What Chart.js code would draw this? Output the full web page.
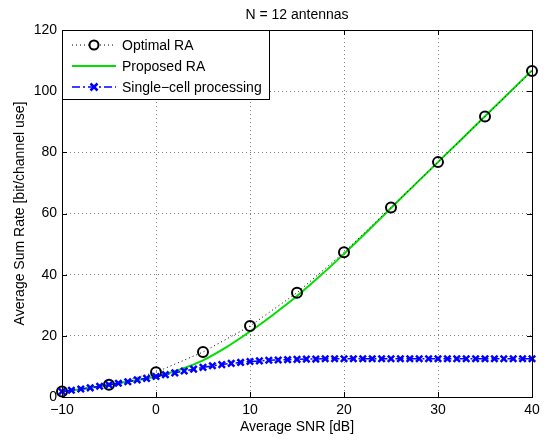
<!DOCTYPE html>
<html>
<head>
<meta charset="utf-8">
<script src="https://cdn.jsdelivr.net/npm/chart.js@4"></script>
<style>
  html, body { margin: 0; padding: 0; background: #fff; }
  #wrap { width: 551px; height: 440px; }
</style>
</head>
<body>
<div id="wrap"><canvas id="rateChart" width="551" height="440"></canvas></div>
<script>
// ------------------
// data
// ------------------
const snrCoarse = [-10, -5, 0, 5, 10, 15, 20, 25, 30, 35, 40];
const optimalRA = [1.8, 4.0, 8.1, 14.7, 23.2, 34.1, 47.3, 62.0, 76.8, 91.7, 106.6];

const snrProposed = [-10, -7.5, -5, -2.5, 0, 2.5, 5, 7.5, 10, 12.5, 15, 17.5, 20, 22.5, 25, 30, 35, 40];
const proposedRA = [1.8, 2.8, 4.0, 5.3, 6.7, 8.9, 12.0, 16.3, 21.4, 27.0, 33.0, 39.7, 46.8, 54.2, 61.8, 76.8, 91.8, 106.8];

const snrFine = [-10, -9, -8, -7, -6, -5, -4, -3, -2, -1, 0, 1, 2, 3, 4, 5, 6, 7, 8, 9,
  10, 11, 12, 13, 14, 15, 16, 17, 18, 19, 20, 21, 22, 23, 24, 25, 26, 27, 28, 29,
  30, 31, 32, 33, 34, 35, 36, 37, 38, 39, 40];
const singleCell = [1.8, 2.2, 2.6, 3.0, 3.5, 4.0, 4.5, 5.0, 5.6, 6.1, 6.7, 7.3, 7.9, 8.5, 9.1, 9.7, 10.2, 10.6, 11.0, 11.3,
  11.6, 11.8, 12.0, 12.1, 12.2, 12.3, 12.4, 12.4, 12.5, 12.5, 12.5, 12.5, 12.5, 12.5, 12.5, 12.5, 12.5, 12.5, 12.5, 12.5,
  12.5, 12.5, 12.5, 12.5, 12.5, 12.5, 12.5, 12.5, 12.5, 12.5, 12.5];

const xTicks = [-10, 0, 10, 20, 30, 40];
const yTicks = [0, 20, 40, 60, 80, 100, 120];

const titleText = "N = 12 antennas";
const xLabel = "Average SNR [dB]";
const yLabel = "Average Sum Rate [bit/channel use]";
const seriesNames = ["Optimal RA", "Proposed RA", "Single\u2212cell processing"];

const FONT = "Liberation Sans, Arial, Helvetica, sans-serif";
const GREEN = "#00e000";
const BLUE = "#0000ff";

function pairs(xs, ys) {
  return xs.map((x, i) => ({ x: x, y: ys[i] }));
}

// ------------------
// box, inward ticks, title, legend
// ------------------
const matlabFrame = {
  id: "matlabFrame",
  afterDraw(chart) {
    const ctx = chart.ctx;
    const a = chart.chartArea;
    const sx = chart.scales.x;
    const sy = chart.scales.y;
    ctx.save();
    ctx.strokeStyle = "#000";
    ctx.lineWidth = 1;
    ctx.strokeRect(a.left + 0.5, a.top + 0.5, a.right - a.left, a.bottom - a.top);

    const tl = 5;
    ctx.beginPath();
    xTicks.forEach(v => {
      const px = Math.round(sx.getPixelForValue(v)) + 0.5;
      ctx.moveTo(px, a.bottom); ctx.lineTo(px, a.bottom - tl);
      ctx.moveTo(px, a.top); ctx.lineTo(px, a.top + tl);
    });
    yTicks.forEach(v => {
      const py = Math.round(sy.getPixelForValue(v)) + 0.5;
      ctx.moveTo(a.left, py); ctx.lineTo(a.left + tl, py);
      ctx.moveTo(a.right, py); ctx.lineTo(a.right - tl, py);
    });
    ctx.stroke();

    // title
    ctx.fillStyle = "#000";
    ctx.font = "14px " + FONT;
    ctx.textAlign = "center";
    ctx.textBaseline = "middle";
    ctx.fillText(titleText, (a.left + a.right) / 2, 15);

    // legend
    const lx = a.left + 0.5, ly = a.top + 0.5, lw = 207, lh = 69;
    ctx.fillStyle = "#fff";
    ctx.fillRect(lx, ly, lw, lh);
    ctx.strokeStyle = "#000";
    ctx.strokeRect(lx, ly, lw, lh);

    const rows = [45, 66, 87];
    const x0 = 72, x1 = 116, xm = 94;
    ctx.lineWidth = 1;

    // optimal
    ctx.strokeStyle = "#000";
    ctx.setLineDash([1, 3]);
    ctx.beginPath(); ctx.moveTo(x0, rows[0]); ctx.lineTo(x1, rows[0]); ctx.stroke();
    ctx.setLineDash([]);
    ctx.lineWidth = 2;
    ctx.fillStyle = "#fff";
    ctx.beginPath(); ctx.arc(xm, rows[0], 4.5, 0, Math.PI * 2); ctx.fill(); ctx.stroke();

    // proposed
    ctx.strokeStyle = GREEN;
    ctx.lineWidth = 2;
    ctx.beginPath(); ctx.moveTo(x0, rows[1]); ctx.lineTo(x1, rows[1]); ctx.stroke();

    // single-cell
    ctx.strokeStyle = BLUE;
    ctx.lineWidth = 1.5;
    ctx.setLineDash([8, 3, 2, 3]);
    ctx.beginPath(); ctx.moveTo(x0, rows[2]); ctx.lineTo(x1, rows[2]); ctx.stroke();
    ctx.setLineDash([]);
    ctx.lineWidth = 2.5;
    ctx.beginPath();
    ctx.moveTo(xm - 3.5, rows[2] - 3.5); ctx.lineTo(xm + 3.5, rows[2] + 3.5);
    ctx.moveTo(xm - 3.5, rows[2] + 3.5); ctx.lineTo(xm + 3.5, rows[2] - 3.5);
    ctx.stroke();

    ctx.fillStyle = "#000";
    ctx.font = "14px " + FONT;
    ctx.textAlign = "left";
    seriesNames.forEach((t, i) => ctx.fillText(t, 122, rows[i] + 1));
    ctx.restore();
  }
};

// ------------------
// chart setup
// ------------------
let chart;

function createChart() {
  const ctx = document.getElementById("rateChart");

  chart = new Chart(ctx, {
    type: "line",
    data: {
      datasets: [
        {
          label: seriesNames[0],
          data: pairs(snrCoarse, optimalRA),
          borderColor: "#000",
          borderWidth: 1,
          borderDash: [1, 3],
          pointStyle: "circle",
          pointRadius: 5,
          pointBorderWidth: 2,
          pointBorderColor: "#000",
          pointBackgroundColor: "rgba(0,0,0,0)",
          order: 1
        },
        {
          label: seriesNames[1],
          data: pairs(snrProposed, proposedRA),
          borderColor: GREEN,
          borderWidth: 2,
          pointRadius: 0,
          cubicInterpolationMode: "monotone",
          order: 2
        },
        {
          label: seriesNames[2],
          data: pairs(snrFine, singleCell),
          borderColor: BLUE,
          borderWidth: 1.5,
          borderDash: [8, 3, 2, 3],
          pointStyle: "crossRot",
          pointRadius: 4.5,
          pointBorderWidth: 2.5,
          pointBorderColor: BLUE,
          order: 0
        }
      ]
    },
    options: {
      responsive: false,
      animation: false,
      clip: false,
      layout: { padding: { top: 30, right: 19, left: 0, bottom: 0 } },
      plugins: {
        legend: { display: false },
        tooltip: { enabled: false }
      },
      scales: {
        x: {
          type: "linear",
          min: -10,
          max: 40,
          afterFit(scale) { scale.height = 43; },
          afterBuildTicks(scale) { scale.ticks = xTicks.map(v => ({ value: v })); },
          ticks: {
            color: "#000",
            font: { family: FONT, size: 14 },
            padding: 5,
            maxRotation: 0,
            callback: v => String(v).replace("-", "\u2212")
          },
          grid: { color: "rgba(0,0,0,0.5)", lineWidth: 1, drawTicks: false },
          border: { display: false, dash: [1, 3] },
          title: {
            display: true,
            text: xLabel,
            color: "#000",
            font: { family: FONT, size: 14 },
            padding: { top: 0, bottom: 4 }
          }
        },
        y: {
          min: 0,
          max: 120,
          afterFit(scale) { scale.width = 62; },
          afterBuildTicks(scale) { scale.ticks = yTicks.map(v => ({ value: v })); },
          ticks: {
            color: "#000",
            font: { family: FONT, size: 14 },
            padding: 5
          },
          grid: { color: "rgba(0,0,0,0.5)", lineWidth: 1, drawTicks: false },
          border: { display: false, dash: [1, 3] },
          title: {
            display: true,
            text: yLabel,
            color: "#000",
            font: { family: FONT, size: 14 },
            padding: { top: 12, bottom: 0 }
          }
        }
      }
    },
    plugins: [matlabFrame]
  });
}

window.onload = () => {
  createChart();
};
</script>
</body>
</html>
